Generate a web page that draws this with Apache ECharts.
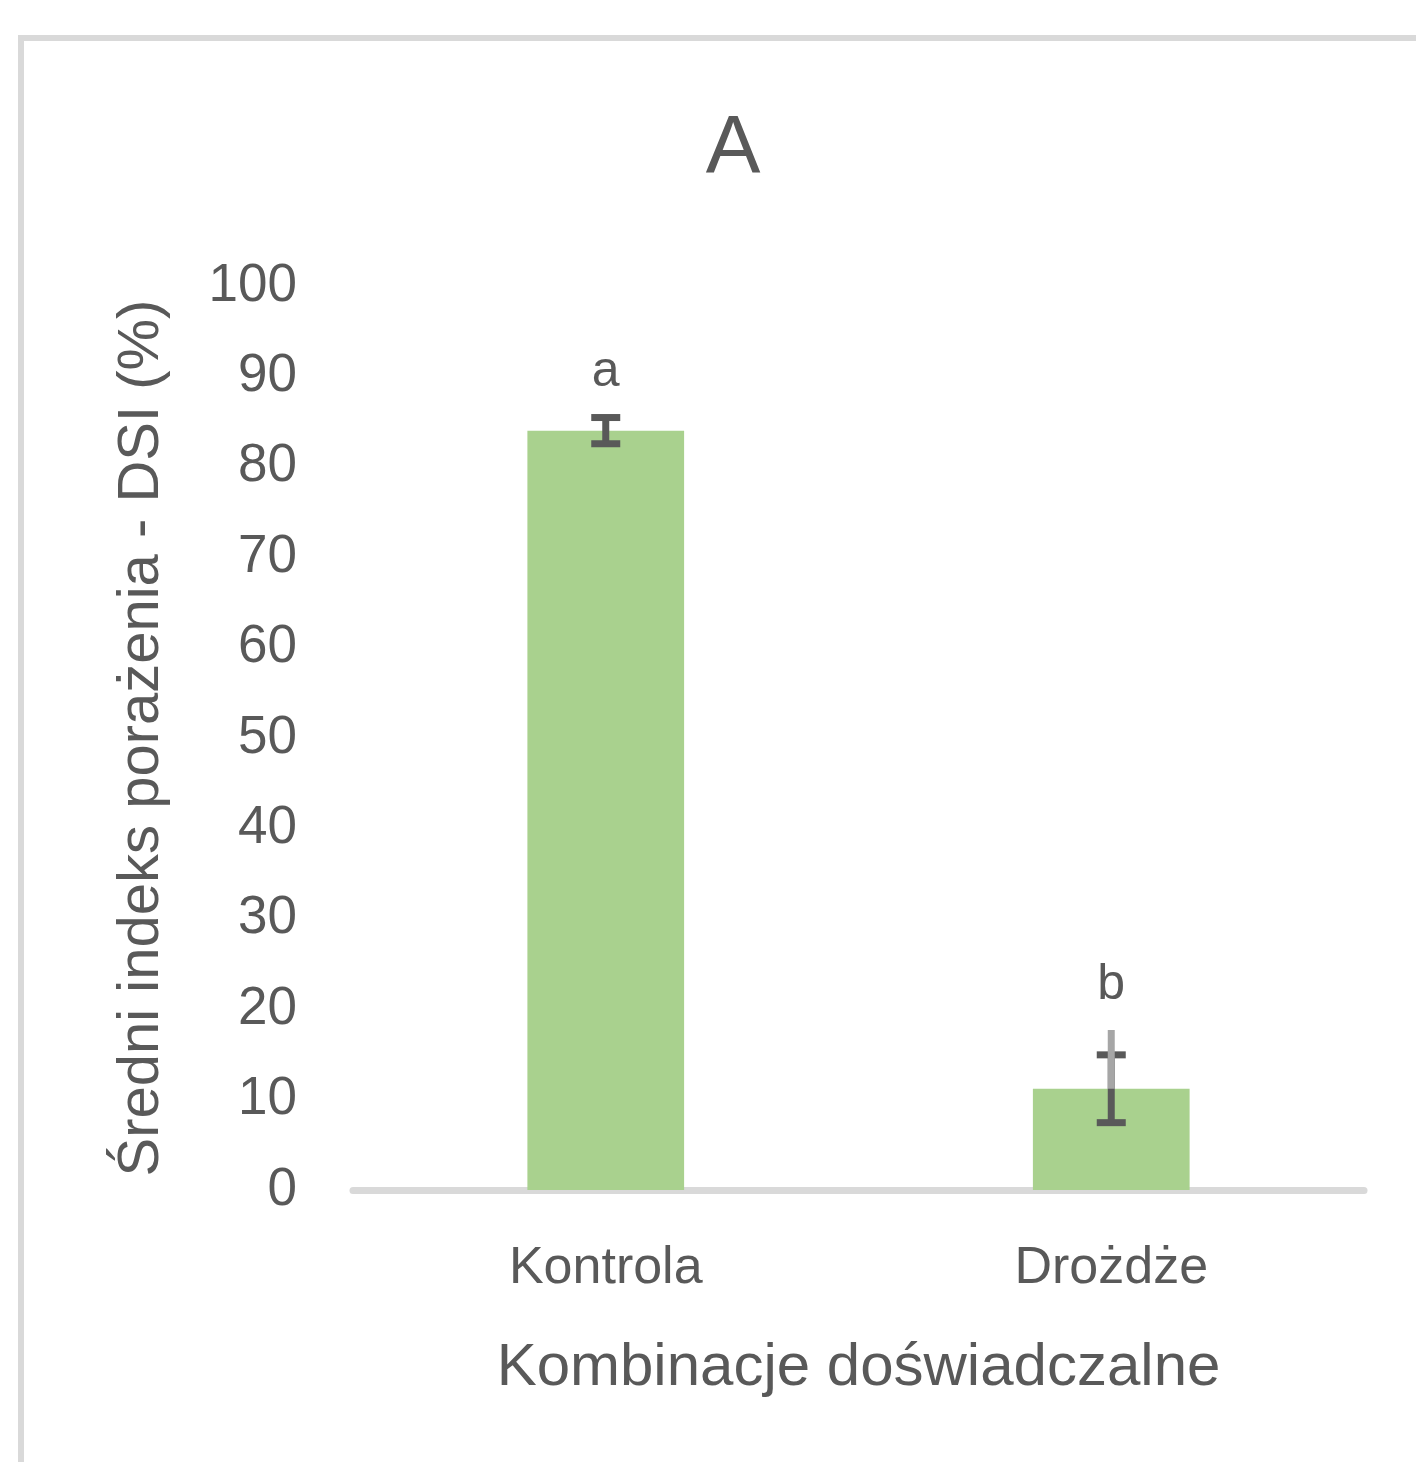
<!DOCTYPE html>
<html><head><meta charset="utf-8">
<script src="https://cdn.jsdelivr.net/npm/echarts@6/dist/echarts.min.js"></script>
<style>html,body{margin:0;padding:0;background:#fff}#c{width:1416px;height:1462px}</style>
</head><body><div id="c"></div>
<script>
const categories = ['Kontrola', 'Drożdże'];
const means = [84.0, 11.2];
const errors = [1.45, 3.75];
const upperExtension = [null, 17.7];
const letters = ['a', 'b'];
const yMin = 0, yMax = 100, yStep = 10;

const FONT = '"Liberation Sans", Arial, sans-serif';
const TXT = '#595959';

const chart = echarts.init(document.getElementById('c'), null, {renderer: 'canvas'});

const errData = categories.map((c, i) => [i, means[i], errors[i], upperExtension[i] == null ? NaN : upperExtension[i], letters[i]]);

const option = {
  backgroundColor: '#fff',
  animation: false,
  title: {
    text: 'A', left: 728, top: 103, textAlign: 'center',
    textStyle: {fontFamily: FONT, fontSize: 82, fontWeight: 'normal', color: TXT}
  },
  graphic: [{
    type: 'rect', silent: true,
    shape: {x: 21, y: 38, width: 1600, height: 1600},
    style: {fill: null, stroke: '#d9d9d9', lineWidth: 6}
  }],
  grid: {left: 353, right: 52, top: 286, bottom: 272, containLabel: false},
  xAxis: {
    type: 'category', data: categories,
    axisLine: {show: true, lineStyle: {color: '#d9d9d9', width: 7}},
    axisTick: {show: false},
    axisLabel: {color: TXT, fontFamily: FONT, fontSize: 52, margin: 53},
    name: 'Kombinacje doświadczalne', nameLocation: 'middle', nameGap: 148,
    nameTextStyle: {color: TXT, fontFamily: FONT, fontSize: 60}
  },
  yAxis: {
    type: 'value', min: yMin, max: yMax, interval: yStep,
    axisLine: {show: false}, axisTick: {show: false}, splitLine: {show: false},
    axisLabel: {color: TXT, fontFamily: FONT, fontSize: 53, margin: 56},
    name: 'Średni indeks porażenia - DSI (%)', nameLocation: 'middle', nameGap: 182,
    nameTextStyle: {color: TXT, fontFamily: FONT, fontSize: 58}
  },
  series: [{
    type: 'bar', data: means, barWidth: '31%',
    itemStyle: {color: '#a9d18e'}, z: 2
  }, {
    type: 'custom', data: errData, z: 5,
    renderItem: function (params, api) {
      const i = api.value(0), m = api.value(1), e = api.value(2), ext = api.value(3);
      const top = api.coord([i, m + e]);
      const bot = api.coord([i, m - e]);
      const mid = api.coord([i, m]);
      const x = top[0];
      const hw = 14.5;
      const dark = {stroke: '#595959', lineWidth: 7};
      const ch = [
        {type: 'line', shape: {x1: x, y1: top[1], x2: x, y2: bot[1]}, style: dark},
        {type: 'line', shape: {x1: x - hw, y1: top[1], x2: x + hw, y2: top[1]}, style: dark},
        {type: 'line', shape: {x1: x - hw, y1: bot[1], x2: x + hw, y2: bot[1]}, style: dark}
      ];
      let topY = top[1];
      if (!isNaN(ext)) {
        const ey = api.coord([i, ext])[1];
        ch.push({type: 'line', shape: {x1: x, y1: mid[1], x2: x, y2: ey}, style: {stroke: '#a6a6a6', lineWidth: 7}});
        topY = Math.min(topY, ey);
      }
      ch.push({type: 'text', style: {text: letters[i], x: x, y: topY - 20, textAlign: 'center', textVerticalAlign: 'bottom',
        fill: TXT, font: '50px ' + FONT}});
      return {type: 'group', children: ch};
    }
  }]
};
chart.setOption(option);
</script></body></html>
